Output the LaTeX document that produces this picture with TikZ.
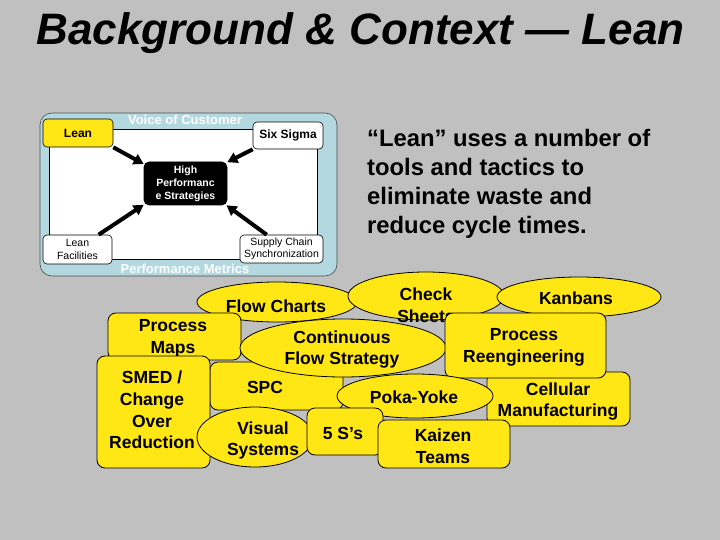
\documentclass[tikz,border=0pt]{standalone}
\usepackage{fontspec}
\setmainfont{Liberation Sans}
\usetikzlibrary{shapes.geometric,arrows.meta}
\definecolor{bg}{RGB}{192,192,192}
\definecolor{ylw}{RGB}{255,230,20}
\definecolor{lblue}{RGB}{180,216,224}
\begin{document}
\begin{tikzpicture}[x=1pt,y=-1pt,
  ybox/.style={draw=black, fill=ylw, rounded corners=8pt, line width=0.8pt, inner sep=0pt},
  yell/.style={draw=black, fill=ylw, ellipse, line width=0.8pt, inner sep=0pt},
  ytxt/.style={font=\fontsize{17.5}{21.7}\selectfont\bfseries, align=center, inner sep=0pt},
  ptxt/.style={font=\fontsize{23.8}{28.7}\selectfont\bfseries, anchor=base west, inner sep=0pt},
  ibox/.style={draw=black, fill=white, rounded corners=4pt, line width=0.6pt, inner sep=0pt, align=center},
  arr/.style={line width=4pt, -{Triangle[length=10pt,width=11pt]}},
  band/.style={font=\fontsize{13}{15}\selectfont\bfseries, text=white, inner sep=0pt}
]
\useasboundingbox (0,0) rectangle (720,540);
\fill[bg] (0,0) rectangle (720,540);

% title
\node[font=\fontsize{44}{50}\selectfont\bfseries\itshape, anchor=base, inner sep=0pt] (title) at (360.5,45) {Background \& Context — Lean};

% inset diagram
\draw[fill=lblue, draw=black!70, line width=0.6pt, rounded corners=12pt] (40,113) rectangle (337,276);
\draw[fill=white, draw=black, line width=0.6pt] (49,129) rectangle (317,259);
\node[band] (voc) at (185,120) {Voice of Customer};
\node[band] (pm) at (185,269) {Performance Metrics};
\node[ibox, fill=ylw, minimum width=70pt, minimum height=28pt, font=\fontsize{12}{14}\selectfont\bfseries] (lean) at (78,133) {Lean};
\node[ibox, minimum width=70pt, minimum height=27pt, font=\fontsize{12}{14}\selectfont\bfseries] (six) at (288,135.5) {Six Sigma};
\node[ibox, fill=black, text=white, minimum width=83pt, minimum height=43pt, rounded corners=5pt, font=\fontsize{10.5}{13}\selectfont\bfseries] (hp) at (185.5,183.5) {High\\Performanc\\e Strategies};
\node[ibox, minimum width=69pt, minimum height=29pt, font=\fontsize{10.5}{12.5}\selectfont] (lf) at (77.5,249.5) {Lean\\Facilities};
\node[ibox, minimum width=83pt, minimum height=28pt, font=\fontsize{10.5}{12.5}\selectfont] (sc) at (281.5,249) {Supply Chain\\Synchronization};
\draw[arr] (lean.south east) -- (hp.155);
\draw[arr] (six.south west) -- (hp.27);
\draw[arr] (lf.35) -- (hp.207);
\draw[arr] (sc.136) -- (hp.-28);

% paragraph
\node[ptxt] (p1) at (367,147) {“Lean” uses a number of};
\node[ptxt] (p2) at (367,175.7) {tools and tactics to};
\node[ptxt] (p3) at (367,204.4) {eliminate waste and};
\node[ptxt] (p4) at (367,233.1) {reduce cycle times.};

% yellow tools
\node[yell, minimum width=160pt, minimum height=40pt] (fc) at (277,302) {};
\node[ytxt] (fct) at (276,306) {Flow Charts};
\node[yell, minimum width=156pt, minimum height=48pt] (cs) at (426,296) {};
\node[ytxt] (cst) at (426,305.5) {Check\\Sheets};
\node[yell, minimum width=164pt, minimum height=40pt] (kb) at (579,297) {};
\node[ytxt] (kbt) at (576,298) {Kanbans};
\node[ybox, minimum width=133pt, minimum height=48pt] (spc) at (276.5,386) {};
\node[ytxt] (spct) at (265,387) {SPC};
\node[ybox, minimum width=133pt, minimum height=47pt] (pmap) at (174.5,336.5) {};
\node[ytxt] (pmapt) at (173,338.5) {Process\\Maps};
\node[yell, minimum width=206pt, minimum height=58pt] (cf) at (343,348) {};
\node[ytxt] (cft) at (342,349.5) {Continuous\\Flow Strategy};
\node[ybox, minimum width=143pt, minimum height=54pt] (cm) at (558.5,399) {};
\node[ytxt] (cmt) at (558,401.5) {Cellular\\Manufacturing};
\node[ybox, minimum width=161pt, minimum height=65pt] (pr) at (525.5,345.5) {};
\node[ytxt] (prt) at (524,347.5) {Process\\Reengineering};
\node[ybox, minimum width=113pt, minimum height=112pt] (smed) at (153.5,412) {};
\node[ytxt] (smedt) at (152,410) {SMED /\\Change\\Over\\Reduction};
\node[yell, minimum width=156pt, minimum height=44pt] (py) at (415,396) {};
\node[ytxt] (pyt) at (414,397) {Poka-Yoke};
\node[yell, minimum width=116pt, minimum height=60pt] (vs) at (255,437) {};
\node[ytxt] (vst) at (263,440.5) {Visual\\Systems};
\node[ybox, minimum width=76pt, minimum height=47pt] (fs) at (345,431.5) {};
\node[ytxt] (fst) at (343,433) {5 S’s};
\node[ybox, minimum width=132pt, minimum height=48pt] (kz) at (444,444) {};
\node[ytxt] (kzt) at (443,446.5) {Kaizen\\Teams};
\end{tikzpicture}
\end{document}
